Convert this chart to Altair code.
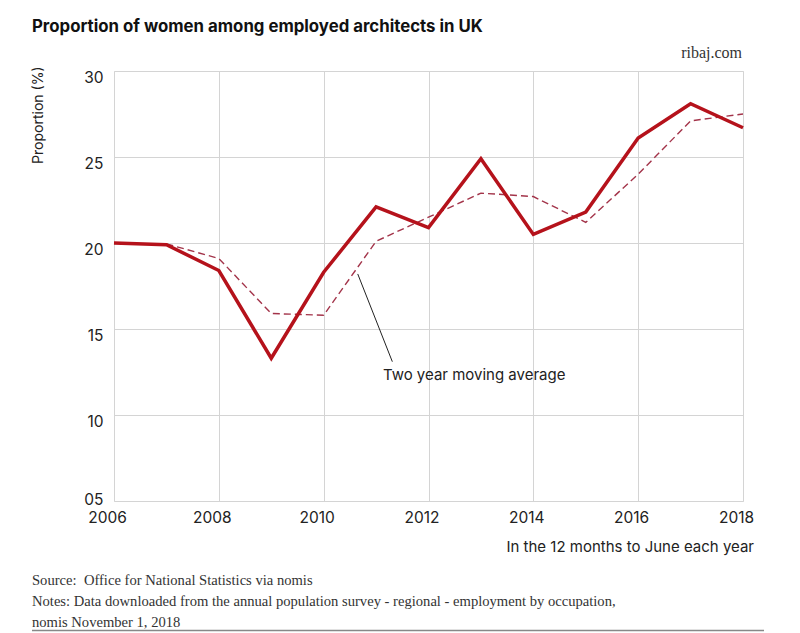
import altair as alt
import pandas as pd

years = list(range(2006, 2019))
proportion = [20.0, 19.9, 18.4, 13.3, 18.3, 22.1, 20.9, 24.9, 20.5, 21.8, 26.1, 28.1, 26.7]
ma_years = list(range(2007, 2019))
moving_avg = [19.95, 19.1, 15.9, 15.8, 20.1, 21.5, 22.9, 22.7, 21.2, 24.0, 27.1, 27.5]

annot_text = ["Two year moving average"]
annot_x = [2011.13]
annot_y = [12.35]
leader_x = [2010.65, 2011.31]
leader_y = [18.2, 13.1]

title_text = "Proportion of women among employed architects in UK"
brand_text = "ribaj.com"
xtitle_text = "In the 12 months to June each year"
notes = [
    "Source:\u00a0 Office for National Statistics via nomis",
    "Notes: Data downloaded from the annual population survey - regional - employment by occupation,",
    "nomis November 1, 2018",
]
y_ticks = [5, 10, 15, 20, 25, 30]
x_ticks = [2006, 2008, 2010, 2012, 2014, 2016, 2018]

SANS = "Inter"
SERIF = "Liberation Serif"
W, H = 629, 430

main_df = pd.DataFrame({"year": years, "value": proportion})
ma_df = pd.DataFrame({"year": ma_years, "value": moving_avg})

xs = alt.Scale(domain=[2006, 2018], nice=False, zero=False)
ys = alt.Scale(domain=[5, 30], nice=False, zero=False)

x_axis = alt.Axis(
    values=x_ticks, format="d", title=None, grid=True, gridColor="#d4d4d4",
    domain=False, ticks=False, labelFont=SANS, labelFontSize=15.5, labelColor="#222",
    labelPadding=9, labelOffset=-7, labelFlush=False,
)
y_axis = alt.Axis(
    values=y_ticks, title="Proportion (%)", grid=True, gridColor="#d4d4d4",
    domain=False, ticks=False, labelFont=SANS, labelFontSize=15.5, labelColor="#222",
    labelPadding=11, labelBaseline="middle",
    labelOffset=alt.condition("datum.value == 5", alt.value(-2), alt.value(6)),
    labelExpr="datum.value < 10 ? '0' + datum.value : '' + datum.value",
    titleFont=SANS, titleFontSize=14, titleFontWeight="normal", titleColor="#222",
    titleAngle=-90, titleX=-76, titleY=-5, titleAlign="right", titleBaseline="middle",
)

base_line = alt.Chart(main_df).mark_line(color="#b5121b", strokeWidth=3.5, strokeJoin="miter").encode(
    x=alt.X("year:Q", scale=xs, axis=x_axis),
    y=alt.Y("value:Q", scale=ys, axis=y_axis),
)

ma_line = alt.Chart(ma_df).mark_line(color="#a3344a", strokeWidth=1.4, strokeDash=[7, 4]).encode(
    x=alt.X("year:Q", scale=xs),
    y=alt.Y("value:Q", scale=ys),
)

leader = alt.Chart(pd.DataFrame({"x": leader_x, "y": leader_y})).mark_line(
    color="#222", strokeWidth=1
).encode(x=alt.X("x:Q", scale=xs), y=alt.Y("y:Q", scale=ys))

annot = alt.Chart(pd.DataFrame({"x": annot_x, "y": annot_y, "t": annot_text})).mark_text(
    align="left", baseline="middle", font=SANS, fontSize=15, color="#222"
).encode(x=alt.X("x:Q", scale=xs), y=alt.Y("y:Q", scale=ys), text="t:N")

title = alt.Chart(pd.DataFrame({"t": [title_text]})).mark_text(
    align="left", baseline="alphabetic", font=SANS, fontSize=16.8, fontWeight="bold", color="#111"
).encode(x=alt.value(-82), y=alt.value(-39), text="t:N")

brand = alt.Chart(pd.DataFrame({"t": [brand_text]})).mark_text(
    align="right", baseline="alphabetic", font=SERIF, fontSize=16, color="#333"
).encode(x=alt.value(628), y=alt.value(-13), text="t:N")

xtitle = alt.Chart(pd.DataFrame({"t": [xtitle_text]})).mark_text(
    align="right", baseline="alphabetic", font=SANS, fontSize=15, color="#222"
).encode(x=alt.value(640), y=alt.value(481), text="t:N")

note_layers = []
for i, line in enumerate(notes):
    note_layers.append(
        alt.Chart(pd.DataFrame({"t": [line]})).mark_text(
            align="left", baseline="alphabetic", font=SERIF, fontSize=14.6, color="#333"
        ).encode(x=alt.value(-82), y=alt.value(514 + 21 * i), text="t:N")
    )

top_rule = alt.Chart(pd.DataFrame({"a": [0]})).mark_rule(color="#888", strokeWidth=1.5).encode(
    x=alt.value(-82), x2=alt.value(654), y=alt.value(-70)
)
bottom_rule = alt.Chart(pd.DataFrame({"a": [0]})).mark_rule(color="#888", strokeWidth=1.5).encode(
    x=alt.value(-82), x2=alt.value(650), y=alt.value(559.5)
)

chart = alt.layer(
    ma_line, base_line, leader, annot, title, brand, xtitle, *note_layers, top_rule, bottom_rule
).properties(
    width=W, height=H,
    autosize=alt.AutoSizeParams(type="none"),
    padding={"left": 106, "top": 63, "right": 40, "bottom": 132},
).configure_view(stroke="#d4d4d4", strokeWidth=1).configure(background="white")

chart.save("out.html", embed_options={"renderer": "svg", "actions": False})
